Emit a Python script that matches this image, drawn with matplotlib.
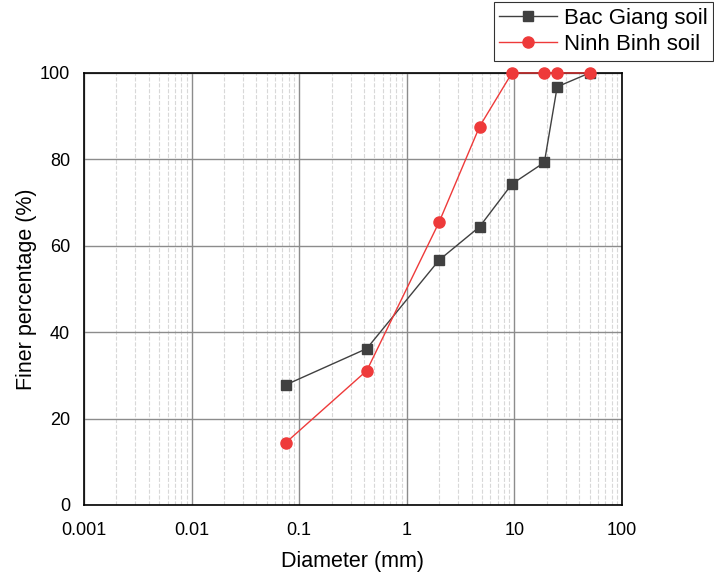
import matplotlib
matplotlib.use("Agg")
import matplotlib.pyplot as plt
from matplotlib.ticker import LogLocator, FixedLocator, FixedFormatter

plt.rcParams['font.family'] = ['Liberation Sans', 'DejaVu Sans']

# Granulometrie des deux sols
diametre = [0.075, 0.425, 2.0, 4.75, 9.5, 19.0, 25.0, 50.0]
bac_giang = [27.8, 36.2, 56.7, 64.4, 74.3, 79.3, 96.8, 100.0]
ninh_binh = [14.4, 31.1, 65.5, 87.6, 100.0, 100.0, 100.0, 100.0]

x_ticks = [0.001, 0.01, 0.1, 1, 10, 100]
x_labels = ['0.001', '0.01', '0.1', '1', '10', '100']

fig = plt.figure(figsize=(7.14, 5.76), dpi=100)
ax = fig.add_axes([0.1176, 0.1233, 0.7535, 0.75])

ax.plot(diametre, bac_giang, color='#404040', lw=1, marker='s', ms=7,
        label='Bac Giang soil', zorder=3)
ax.plot(diametre, ninh_binh, color='#ee3a3a', lw=1, marker='o', ms=8,
        label='Ninh Binh soil', zorder=4, clip_on=False)

ax.set_xscale('log')
ax.set_xlim(0.001, 100)
ax.set_ylim(0, 100)
ax.xaxis.set_major_locator(FixedLocator(x_ticks))
ax.xaxis.set_major_formatter(FixedFormatter(x_labels))
ax.xaxis.set_minor_locator(LogLocator(base=10, subs=range(2, 10), numticks=20))
ax.set_yticks([0, 20, 40, 60, 80, 100])

ax.grid(which='major', color='#8c8c8c', lw=1, ls='-')
ax.grid(which='minor', axis='x', color='#d8d8d8', lw=0.8, ls='--')
ax.set_axisbelow(True)
ax.tick_params(which='both', length=0, labelsize=13)
ax.tick_params(axis='x', pad=12)
ax.tick_params(axis='y', pad=10)

for s in ax.spines.values():
    s.set_color('black')
    s.set_linewidth(1.2)

ax.set_xlabel('Diameter (mm)', fontsize=15.5, labelpad=9)
ax.set_ylabel('Finer percentage (%)', fontsize=15.5, labelpad=2)

leg = ax.legend(loc='upper right', bbox_to_anchor=(1.169, 1.164), fontsize=16,
                frameon=True, fancybox=False, edgecolor='black',
                handlelength=2.6, borderpad=0.25, labelspacing=0.25,
                handletextpad=0.3, borderaxespad=0)
leg.get_frame().set_linewidth(0.8)

fig.savefig('out.png', dpi=100)
